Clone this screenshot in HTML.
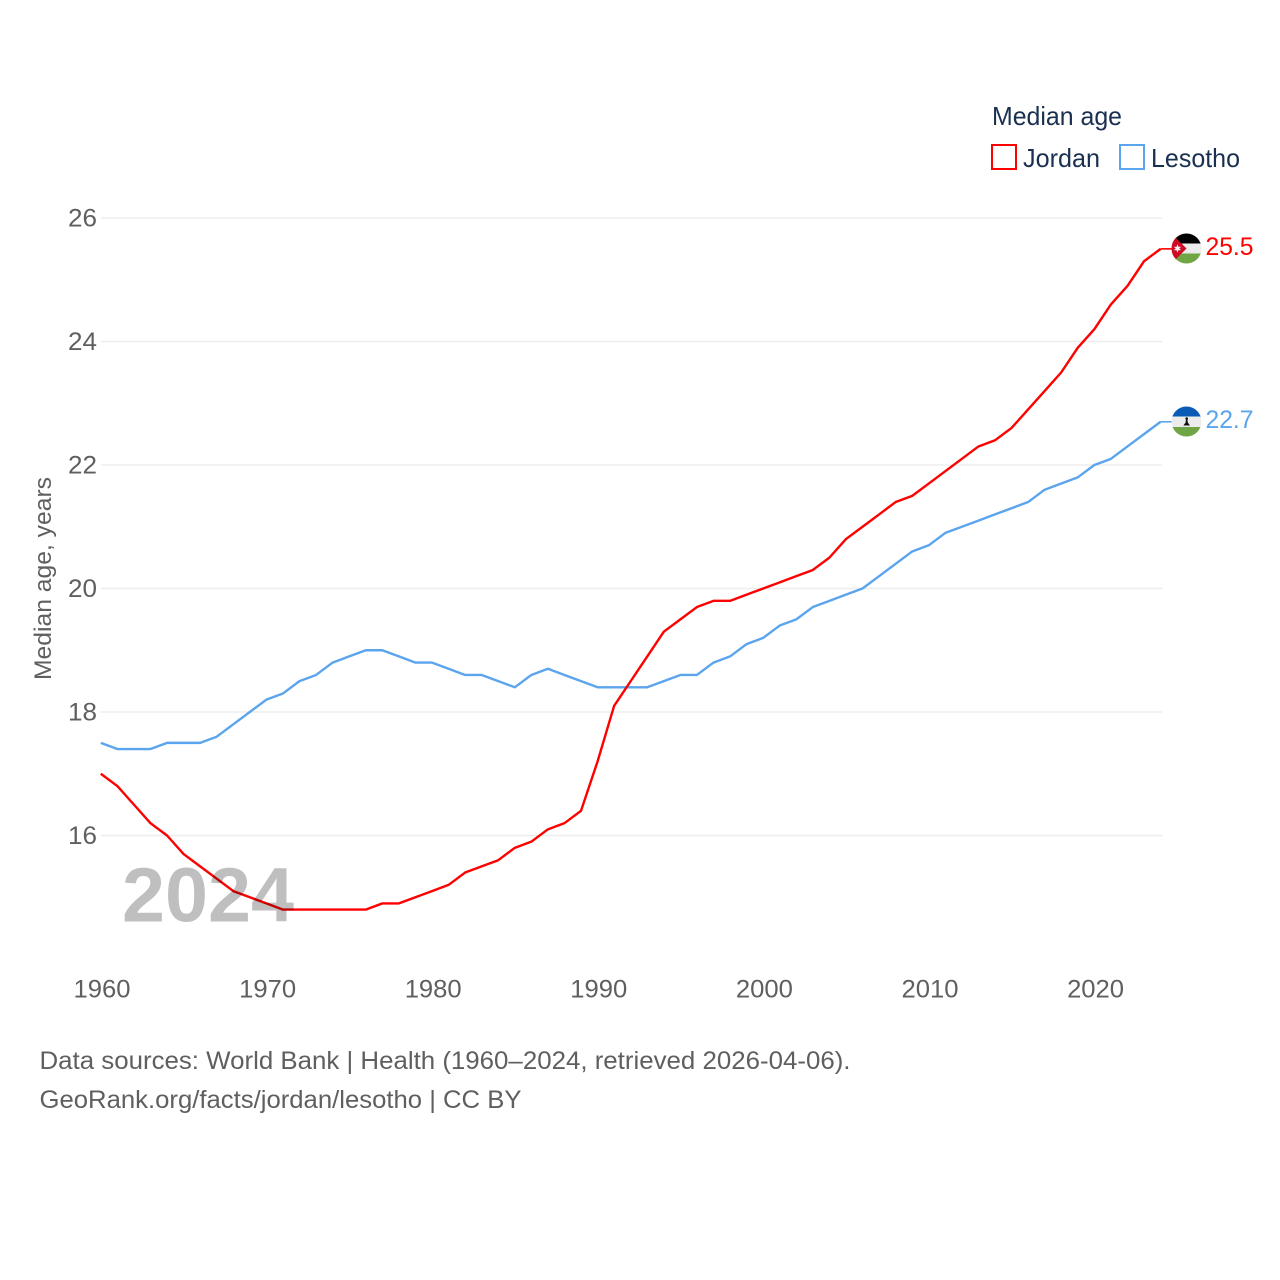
<!DOCTYPE html>
<html>
<head>
<meta charset="utf-8">
<style>
html,body{margin:0;padding:0;background:#fff}
svg{display:block}
text{font-family:"Liberation Sans",sans-serif}
</style>
</head>
<body>
<svg id="chart" xmlns="http://www.w3.org/2000/svg" width="1280" height="1280" viewBox="0 0 1280 1280">
  <defs>
    <clipPath id="clip-jordan"><circle cx="1186.500" cy="248.500" r="15"/></clipPath>
    <clipPath id="clip-lesotho"><circle cx="1186.500" cy="421.500" r="15"/></clipPath>
  </defs>
  <rect x="0" y="0" width="1280" height="1280" fill="#fff"/>
  <g id="grid"></g>
  <g id="yticks"></g>
  <g id="xticks"></g>
  <text transform="translate(51,680) rotate(-90)" font-size="24" fill="#5f5f5f" textLength="203" lengthAdjust="spacingAndGlyphs">Median age, years</text>

  <g>
    <text x="992" y="125" font-size="26" fill="#1a3050" textLength="130" lengthAdjust="spacingAndGlyphs">Median age</text>
    <g>
      <rect x="992" y="145" width="24" height="24" fill="#fff" stroke="#ff0000" stroke-width="2"/>
      <text x="1023" y="167" font-size="26" fill="#1a3050" textLength="77" lengthAdjust="spacingAndGlyphs">Jordan</text>
    </g>
    <g>
      <rect x="1120" y="145" width="24" height="24" fill="#fff" stroke="#5ba4ee" stroke-width="2"/>
      <text x="1151" y="167" font-size="26" fill="#1a3050" textLength="89" lengthAdjust="spacingAndGlyphs">Lesotho</text>
    </g>
  </g>

  <polyline id="line-lesotho" fill="none" stroke="#5ba4ee" stroke-width="2.4" stroke-linejoin="round"/>
  <polyline id="line-jordan" fill="none" stroke="#ff0000" stroke-width="2.4" stroke-linejoin="round"/>
  <line id="stub-lesotho" stroke="#5ba4ee" stroke-width="1.6"/>
  <line id="stub-jordan" stroke="#ff0000" stroke-width="1.6"/>

  <text x="122" y="921.500" font-size="77" font-weight="bold" fill="#000" fill-opacity="0.25" textLength="172" lengthAdjust="spacingAndGlyphs">2024</text>

  <g clip-path="url(#clip-jordan)">
    <rect x="1171" y="233" width="31" height="10.500" fill="#000"/>
    <rect x="1171" y="243.500" width="31" height="10" fill="#ececec"/>
    <rect x="1171" y="253.500" width="31" height="11" fill="#6fa544"/>
    <polygon points="1171.500,233.500 1186.500,248.500 1171.500,263.500" fill="#ce0a24"/>
    <polygon points="1177.500,244.300 1178.500,246.900 1181.300,246.700 1179.200,248.500 1181.300,250.300 1178.500,250.100 1177.500,252.700 1176.500,250.100 1173.700,250.300 1175.800,248.500 1173.700,246.700 1176.500,246.900" fill="#f4f4f4"/>
  </g>
  <g clip-path="url(#clip-lesotho)">
    <rect x="1171" y="406" width="31" height="10.500" fill="#0a5bb5"/>
    <rect x="1171" y="416.500" width="31" height="10.500" fill="#ececec"/>
    <rect x="1171" y="427" width="31" height="10" fill="#6fa544"/>
    <circle cx="1186.700" cy="418.500" r="1.300" fill="#111"/>
    <path d="M1186 419 L1187.400 419 L1187.800 422.500 L1190 425.500 L1183.400 425.500 L1185.600 422.500 Z" fill="#111"/>
  </g>

  <text x="1205.500" y="255" font-size="25" fill="#ff0000" textLength="48" lengthAdjust="spacingAndGlyphs">25.5</text>
  <text x="1205.500" y="428" font-size="25" fill="#5ba4ee" textLength="48" lengthAdjust="spacingAndGlyphs">22.7</text>

  <text x="39.500" y="1069" font-size="25" fill="#5f5f5f" textLength="811" lengthAdjust="spacingAndGlyphs">Data sources: World Bank | Health (1960–2024, retrieved 2026-04-06).</text>
  <a><text x="39.500" y="1108" font-size="25" fill="#5f5f5f" textLength="482" lengthAdjust="spacingAndGlyphs">GeoRank.org/facts/jordan/lesotho | CC BY</text></a>
</svg>
<script>
var firstYear = 1960;
var jordanValues = [17.0,16.8,16.5,16.2,16.0,15.7,15.5,15.3,15.1,15.0,14.9,14.8,14.8,14.8,14.8,14.8,14.8,14.9,14.9,15.0,15.1,15.2,15.4,15.5,15.6,15.8,15.9,16.1,16.2,16.4,17.2,18.1,18.5,18.9,19.3,19.5,19.7,19.8,19.8,19.9,20.0,20.1,20.2,20.3,20.5,20.8,21.0,21.2,21.4,21.5,21.7,21.9,22.1,22.3,22.4,22.6,22.9,23.2,23.5,23.9,24.2,24.6,24.9,25.3,25.5];
var lesothoValues = [17.5,17.4,17.4,17.4,17.5,17.5,17.5,17.6,17.8,18.0,18.2,18.3,18.5,18.6,18.8,18.9,19.0,19.0,18.9,18.8,18.8,18.7,18.6,18.6,18.5,18.4,18.6,18.7,18.6,18.5,18.4,18.4,18.4,18.4,18.5,18.6,18.6,18.8,18.9,19.1,19.2,19.4,19.5,19.7,19.8,19.9,20.0,20.2,20.4,20.6,20.7,20.9,21.0,21.1,21.2,21.3,21.4,21.6,21.7,21.8,22.0,22.1,22.3,22.5,22.7];
var yTickValues = [16,18,20,22,24,26];
var xTickValues = [1960,1970,1980,1990,2000,2010,2020];

var SVGNS = 'http://www.w3.org/2000/svg';
function xScale(year){ return 100.8 + (year - 1960) * (1160.6 - 100.8) / 64; }
function yScale(v){ return 835.5 - (v - 16) * (835.5 - 218) / 10; }
function toPoints(vals){
  return vals.map(function(v,i){ return xScale(firstYear + i).toFixed(2) + ',' + yScale(v).toFixed(2); }).join(' ');
}
document.getElementById('line-jordan').setAttribute('points', toPoints(jordanValues));
document.getElementById('line-lesotho').setAttribute('points', toPoints(lesothoValues));

function placeStub(id, vals){
  var s = document.getElementById(id);
  var y = yScale(vals[vals.length - 1]);
  s.setAttribute('x1', xScale(firstYear + vals.length - 1));
  s.setAttribute('x2', 1172);
  s.setAttribute('y1', y);
  s.setAttribute('y2', y);
}
placeStub('stub-jordan', jordanValues);
placeStub('stub-lesotho', lesothoValues);

var grid = document.getElementById('grid');
var yG = document.getElementById('yticks');
var xG = document.getElementById('xticks');
yTickValues.forEach(function(t){
  var l = document.createElementNS(SVGNS,'line');
  
  
  l.setAttribute('x1', 101);
  l.setAttribute('x2', 1162);
  l.setAttribute('y1', yScale(t));
  l.setAttribute('y2', yScale(t));
  l.setAttribute('stroke', '#ededed');
  l.setAttribute('stroke-width', '1.6');
  grid.appendChild(l);
  var s = document.createElementNS(SVGNS,'text');
  
  
  s.setAttribute('x', 68);
  s.setAttribute('y', yScale(t) + 8.5);
  s.setAttribute('font-size', '25');
  s.setAttribute('fill', '#5f5f5f');
  s.setAttribute('textLength', '29');
  s.setAttribute('lengthAdjust', 'spacingAndGlyphs');
  s.textContent = String(t);
  yG.appendChild(s);
});
xTickValues.forEach(function(t){
  var s = document.createElementNS(SVGNS,'text');
  
  
  s.setAttribute('x', xScale(t) - 27.3);
  s.setAttribute('y', 997.5);
  s.setAttribute('font-size', '25');
  s.setAttribute('fill', '#5f5f5f');
  s.setAttribute('textLength', '57');
  s.setAttribute('lengthAdjust', 'spacingAndGlyphs');
  s.textContent = String(t);
  xG.appendChild(s);
});
</script>
</body>
</html>
